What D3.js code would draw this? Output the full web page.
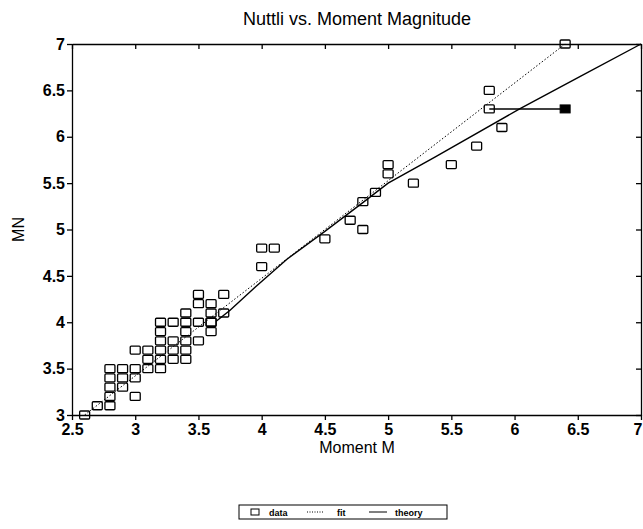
<!DOCTYPE html>
<html>
<head>
<meta charset="utf-8">
<script src="https://cdn.jsdelivr.net/npm/d3@7"></script>
<style>
  body { margin: 0; background: #fff; }
  text { font-family: "Liberation Sans", Arial, sans-serif; fill: #000; }
</style>
</head>
<body>
<div id="chart"></div>
<script>
// Data
let dataM = [2.6, 2.7, 2.8, 2.8, 2.8, 2.8, 2.8, 2.9, 2.9, 2.9, 3.0, 3.0, 3.0, 3.0,
  3.1, 3.1, 3.1, 3.2, 3.2, 3.2, 3.2, 3.2, 3.2, 3.3, 3.3, 3.3, 3.3, 3.4, 3.4, 3.4, 3.4, 3.4, 3.4,
  3.5, 3.5, 3.5, 3.5, 3.6, 3.6, 3.6, 3.6, 3.6, 3.7, 3.7,
  4.0, 4.1, 4.0, 4.5, 4.7, 4.8, 4.8, 4.9, 5.0, 5.0, 5.2, 5.5, 5.7, 5.8, 5.8, 5.9, 6.4]
let dataMN = [3.0, 3.1, 3.1, 3.2, 3.3, 3.4, 3.5, 3.3, 3.4, 3.5, 3.2, 3.4, 3.5, 3.7,
  3.5, 3.6, 3.7, 3.5, 3.6, 3.7, 3.8, 3.9, 4.0, 3.6, 3.7, 3.8, 4.0, 3.6, 3.7, 3.8, 3.9, 4.0, 4.1,
  3.8, 4.0, 4.2, 4.3, 3.9, 4.0, 4.1, 4.2, 4.0, 4.1, 4.3,
  4.8, 4.8, 4.6, 4.9, 5.1, 5.0, 5.3, 5.4, 5.6, 5.7, 5.5, 5.7, 5.9, 6.5, 6.3, 6.1, 7.0]
// highlighted event (filled) and its link to the open square
let specialM = [5.8, 6.4]
let specialMN = [6.3, 6.3]
// least squares fit (dotted)
let fitM = [2.6, 6.4]
let fitMN = [3.0, 7.0]
// theory curve (solid)
let theoryM = [3.64, 3.75, 3.95, 4.2, 4.5, 4.8, 5.0, 5.37, 6.04, 6.52, 7.0]
let theoryMN = [4.01, 4.13, 4.38, 4.68, 4.98, 5.29, 5.5, 5.78, 6.3, 6.65, 7.0]
let xTicks = [2.5, 3, 3.5, 4, 4.5, 5, 5.5, 6, 6.5, 7]
let yTicks = [3, 3.5, 4, 4.5, 5, 5.5, 6, 6.5, 7]

let W = 643, H = 529
let margin = { top: 44, right: 2, bottom: 114, left: 72 }

let svg = d3.select('#chart').append('svg')
  .attr('width', W)
  .attr('height', H)

let x = d3.scaleLinear().domain([2.5, 7]).range([margin.left, W - margin.right])
let y = d3.scaleLinear().domain([3, 7]).range([H - margin.bottom, margin.top])

// Title
svg.append('text')
  .attr('x', 357)
  .attr('y', 25)
  .attr('text-anchor', 'middle')
  .style('font-size', '18px')
  .text('Nuttli vs. Moment Magnitude')

// Axes: outer ticks on left/bottom, inner ticks on top/right
let fmt = d => String(d)
let xAxisBottom = svg.append('g')
  .attr('transform', `translate(0,${y(3)})`)
  .call(d3.axisBottom(x).tickValues(xTicks).tickFormat(fmt).tickSize(5).tickSizeOuter(0))
let yAxisLeft = svg.append('g')
  .attr('transform', `translate(${x(2.5)},0)`)
  .call(d3.axisLeft(y).tickValues(yTicks).tickFormat(fmt).tickSize(5).tickSizeOuter(0))
svg.append('g')
  .attr('transform', `translate(0,${y(7)})`)
  .call(d3.axisBottom(x).tickValues(xTicks).tickFormat('').tickSize(5).tickSizeOuter(0))
svg.append('g')
  .attr('transform', `translate(${x(7)},0)`)
  .call(d3.axisLeft(y).tickValues(yTicks).tickFormat('').tickSize(5).tickSizeOuter(0))

svg.selectAll('.domain').attr('stroke', '#000').attr('stroke-width', 1.3)
svg.selectAll('.tick line').attr('stroke', '#000').attr('stroke-width', 1.3)
xAxisBottom.selectAll('text').attr('dy', '0.8em').style('font-size', '16px').style('font-weight', 'bold').attr('y', 7)
// keep the last label inside the window
xAxisBottom.selectAll('.tick text').filter(d => d === 7).attr('text-anchor', 'end').attr('x', 1)
yAxisLeft.selectAll('text').style('font-size', '16px').style('font-weight', 'bold').attr('x', -7)

// Axis labels
svg.append('text')
  .attr('x', 357)
  .attr('y', 453)
  .attr('text-anchor', 'middle')
  .style('font-size', '16px')
  .text('Moment M')
svg.append('text')
  .attr('transform', `translate(24,${(margin.top + H - margin.bottom) / 2}) rotate(-90)`)
  .attr('text-anchor', 'middle')
  .style('font-size', '16px')
  .text('MN')

let line = d3.line().x(d => x(d[0])).y(d => y(d[1]))

// Fit (dotted)
svg.append('path')
  .datum(d3.zip(fitM, fitMN))
  .attr('d', line)
  .attr('fill', 'none')
  .attr('stroke', '#000')
  .attr('stroke-width', 1)
  .attr('stroke-dasharray', '1.5,2')

// Theory (solid)
svg.append('path')
  .datum(d3.zip(theoryM, theoryMN))
  .attr('d', line)
  .attr('fill', 'none')
  .attr('stroke', '#000')
  .attr('stroke-width', 1.4)

// Link between open square and filled square
svg.append('path')
  .datum(d3.zip(specialM, specialMN))
  .attr('d', line)
  .attr('fill', 'none')
  .attr('stroke', '#000')
  .attr('stroke-width', 1.4)

// Data squares
let sw = 10, sh = 8
svg.append('g').selectAll('rect')
  .data(d3.zip(dataM, dataMN))
  .enter().append('rect')
  .attr('x', d => x(d[0]) - sw / 2)
  .attr('y', d => y(d[1]) - sh / 2)
  .attr('width', sw)
  .attr('height', sh)
  .attr('rx', 1)
  .attr('fill', 'none')
  .attr('stroke', '#000')
  .attr('stroke-width', 1.3)

svg.append('rect')
  .attr('x', x(specialM[1]) - sw / 2)
  .attr('y', y(specialMN[1]) - sh / 2)
  .attr('width', sw)
  .attr('height', sh)
  .attr('fill', '#000')
  .attr('stroke', '#000')

// Legend
let lg = svg.append('g').attr('transform', 'translate(239,505)')
lg.append('rect')
  .attr('width', 208).attr('height', 14)
  .attr('fill', 'none').attr('stroke', '#000').attr('stroke-width', 1)
lg.append('rect')
  .attr('x', 12).attr('y', 4).attr('width', 8).attr('height', 6)
  .attr('fill', 'none').attr('stroke', '#000').attr('stroke-width', 1)
lg.append('text').attr('x', 30).attr('y', 10.5).style('font-size', '9px').style('font-weight', 'bold').text('data')
lg.append('line').attr('x1', 68).attr('x2', 85).attr('y1', 7).attr('y2', 7)
  .attr('stroke', '#000').attr('stroke-width', 1).attr('stroke-dasharray', '1,1.5')
lg.append('text').attr('x', 98).attr('y', 10.5).style('font-size', '9px').style('font-weight', 'bold').text('fit')
lg.append('line').attr('x1', 130).attr('x2', 148).attr('y1', 7).attr('y2', 7)
  .attr('stroke', '#000').attr('stroke-width', 1)
lg.append('text').attr('x', 156).attr('y', 10.5).style('font-size', '9px').style('font-weight', 'bold').text('theory')
</script>
</body>
</html>
